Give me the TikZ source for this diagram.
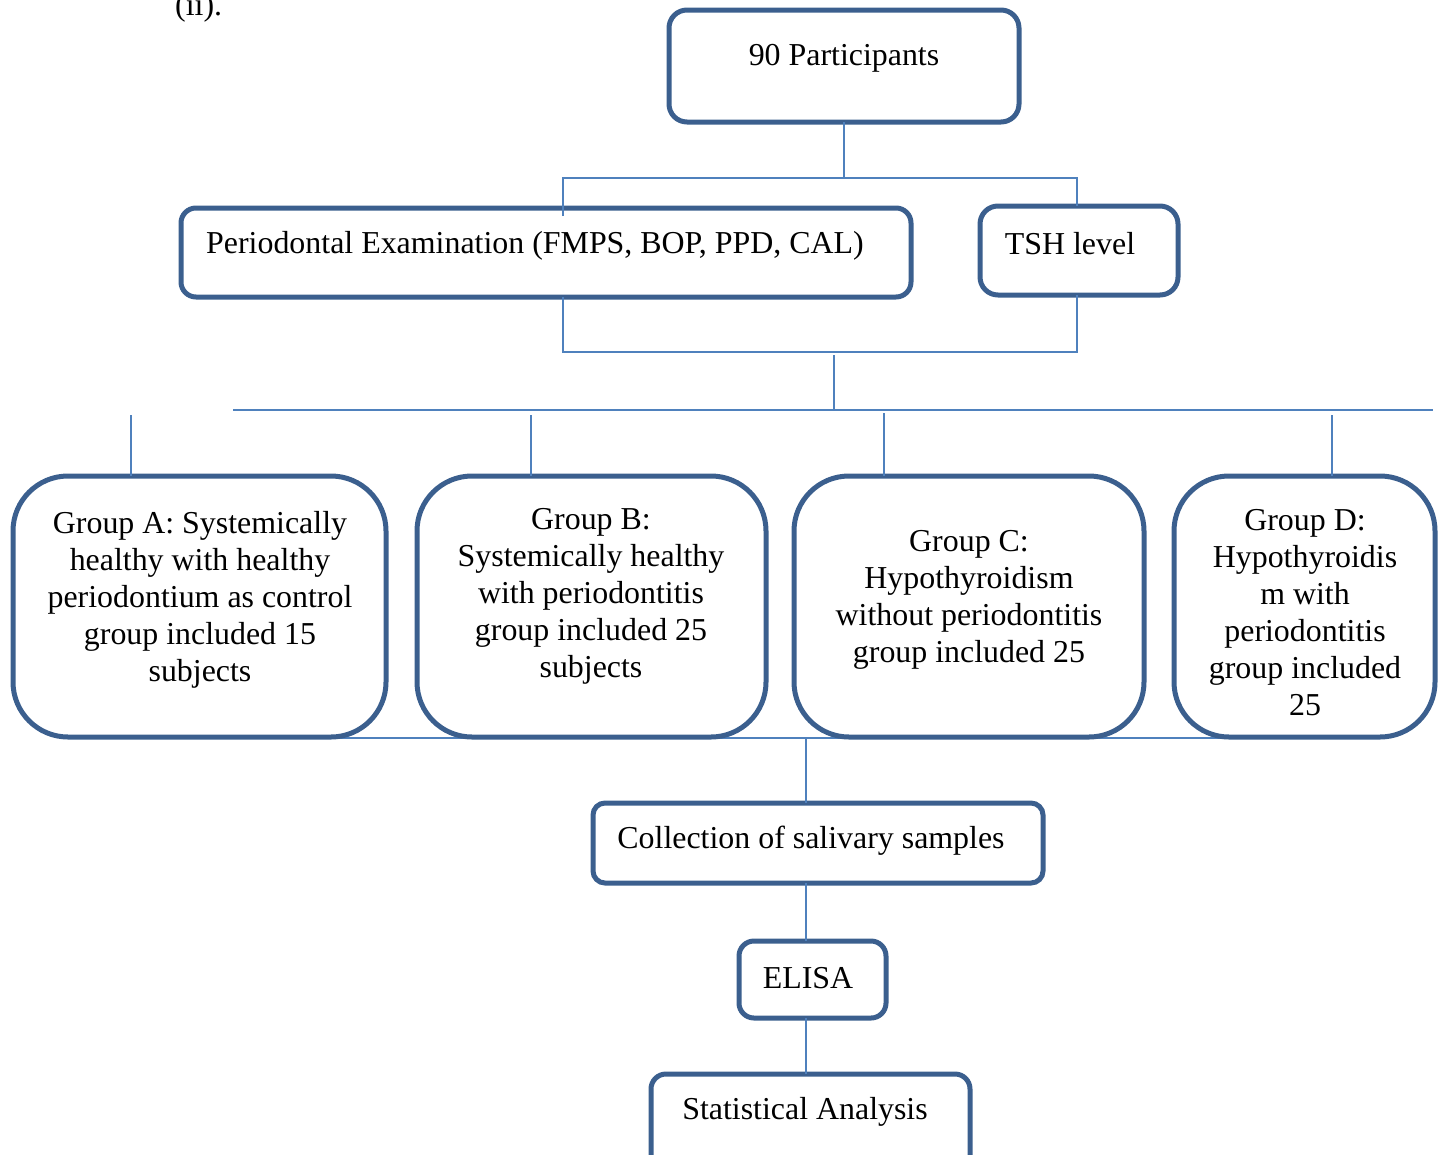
\documentclass[tikz,border=0pt]{standalone}
\usepackage{fontspec}
\setmainfont{Liberation Serif}
\usetikzlibrary{backgrounds,calc}
\definecolor{boxc}{HTML}{3B5F8E}
\definecolor{linec}{HTML}{4F81BD}
\begin{document}
\begin{tikzpicture}[x=1pt,y=-1pt,
 box/.style={draw=boxc,line width=5pt,rectangle,inner sep=0pt,outer sep=0pt,anchor=north west},
 conn/.style={draw=linec,line width=2pt},
 txt/.style={font=\fontsize{31.9}{37}\selectfont,inner sep=0pt,align=center,text=black}]
\useasboundingbox (0,0) rectangle (1448,1154);

% boxes
\node[box,rounded corners=18pt,minimum width=350pt,minimum height=112pt] (p90) at (669,10) {};
\node[box,rounded corners=15pt,minimum width=730pt,minimum height=89pt] (pe) at (181,208) {};
\node[box,rounded corners=18pt,minimum width=198pt,minimum height=89pt] (tsh) at (980,206) {};
\node[box,rounded corners=55pt,minimum width=373pt,minimum height=261pt] (ga) at (13,476) {};
\node[box,rounded corners=55pt,minimum width=349pt,minimum height=261pt] (gb) at (417,476) {};
\node[box,rounded corners=55pt,minimum width=350pt,minimum height=261pt] (gc) at (794,476) {};
\node[box,rounded corners=55pt,minimum width=261pt,minimum height=261pt] (gd) at (1174,476) {};
\node[box,rounded corners=12pt,minimum width=450pt,minimum height=80pt] (coll) at (593,803) {};
\node[box,rounded corners=15pt,minimum width=147pt,minimum height=77pt] (elisa) at (739,941) {};
\node[box,rounded corners=15pt,minimum width=319pt,minimum height=110pt] (stat) at (651,1074) {};

% texts
\node[txt,anchor=base west] (ii) at (175,15) {(ii).};
\node[txt] (p90t) at (844,58) {90 Participants};
\node[txt,anchor=west] (pet) at (206,246) {Periodontal Examination (FMPS, BOP, PPD, CAL)};
\node[txt] (tsht) at (1070,244) {TSH level};
\node[txt] (gat) at (200,600) {Group A: Systemically\\healthy with healthy\\periodontium as control\\group included 15\\subjects};
\node[txt] (gbt) at (591,596) {Group B:\\Systemically healthy\\with periodontitis\\group included 25\\subjects};
\node[txt] (gct) at (969,600) {Group C:\\Hypothyroidism\\without periodontitis\\group included 25};
\node[txt] (gdt) at (1305,613) {Group D:\\Hypothyroidis\\m with\\periodontitis\\group included\\25};
\node[txt] (collt) at (811,841) {Collection of salivary samples};
\node[txt] (elisat) at (808,978) {ELISA};
\node[txt] (statt) at (805,1112) {Statistical Analysis};

% junction coordinates
\coordinate (j1l) at (563,178);
\coordinate (j1r) at (1077,178);
\coordinate (j2l) at (563,352);
\coordinate (j2r) at (1077,352);
\coordinate (j2m) at (834,352);
\coordinate (j3m) at (834,410);
\coordinate (h4l) at (233,410);
\coordinate (h4r) at (1433,410);
\coordinate (va) at (131,415);
\coordinate (vb) at (531,415);
\coordinate (vc) at (884,413);
\coordinate (vd) at (1332,415);
\coordinate (j5m) at (806,739);

% connectors
\draw[conn] (p90.south) -- (p90.south |- j1l);
\draw[conn] ($(pe.north -| j1l)+(0,8)$) -- (j1l) -- (j1r) -- (tsh.north -| j1r);
\draw[conn] (pe.south -| j2l) -- (j2l) -- (j2r) -- (tsh.south -| j2r);
\draw[conn] ($(j2m)+(0,3)$) -- (j3m);
\draw[conn] (h4l) -- (h4r);
\draw[conn] (va) -- (ga.north -| va);
\draw[conn] (vb) -- (gb.north -| vb);
\draw[conn] (vc) -- (gc.north -| vc);
\draw[conn] (vd) -- (gd.north -| vd);
\begin{scope}[on background layer]
\draw[conn] ($(ga.south)+(0,1)$) -- ($(gd.south)+(0,1)$);
\end{scope}
\draw[conn] (j5m) -- (coll.north -| j5m);
\draw[conn] (coll.south -| j5m) -- (elisa.north -| j5m);
\draw[conn] (elisa.south -| j5m) -- (stat.north -| j5m);
\end{tikzpicture}
\end{document}
